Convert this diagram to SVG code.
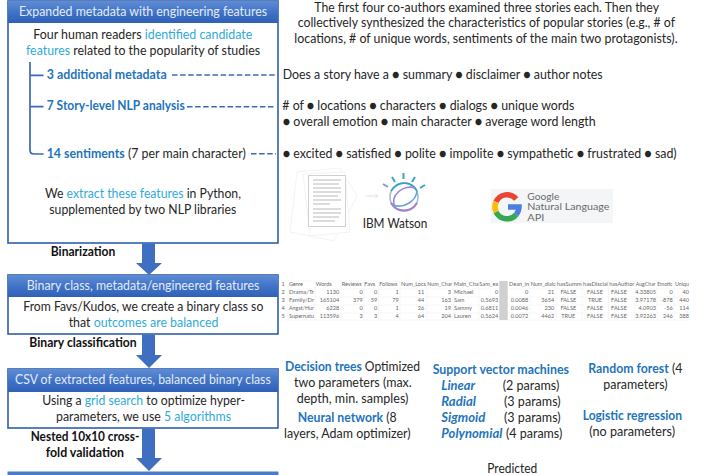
<svg xmlns="http://www.w3.org/2000/svg" width="725" height="475" viewBox="0 0 725 475">
<defs>
<linearGradient id="hdr" x1="0" y1="0" x2="0" y2="1"><stop offset="0" stop-color="#5f8cd4"/><stop offset="0.5" stop-color="#4174c8"/><stop offset="1" stop-color="#2f60b6"/></linearGradient>
</defs>
<style>
text{font-family:"Lato","Carlito","Liberation Sans",sans-serif;font-size:13.2px;fill:#262626}
.w{fill:#e3ebf7;font-size:13.2px}
.c{fill:#2fabd9}
.b{fill:#1f74bb;font-weight:700}
.i{fill:#1f74bb;font-weight:700;font-style:italic}
.k{font-weight:700;fill:#111;font-size:13.2px}
.body{fill:#fff;stroke:#2f5fa8;stroke-width:1.6}
.hd{fill:url(#hdr)}
.arr{fill:#3f6fc0}
.tree{fill:none;stroke:#3a6ab4;stroke-width:1.7}
.dash{fill:none;stroke:#3a6ab4;stroke-width:1.6;stroke-dasharray:5.500 2.600}
.t{font-size:5.600px;fill:#666}
.r{font-size:5.600px;fill:#666;text-anchor:end}
.f{font-size:5.600px;fill:#666;text-anchor:middle}
.grid{stroke:#ececec;stroke-width:.5;fill:none}
.g{font-size:8.800px;fill:#6a6a6a}
</style>
<g id="node-expanded">
<rect class="body" x="8" y="1" width="270" height="242"/>
<rect class="hd" x="8" y="1" width="270" height="22"/>
<text class="w" x="19" y="15.500" textLength="248" lengthAdjust="spacingAndGlyphs">Expanded metadata with engineering features</text>
<text x="33.300" y="39" textLength="219" lengthAdjust="spacingAndGlyphs">Four human readers <tspan class="c">identified candidate</tspan></text>
<text x="26" y="55" textLength="234" lengthAdjust="spacingAndGlyphs"><tspan class="c">features</tspan> related to the popularity of studies</text>
<text x="46.700" y="79" class="b" textLength="120" lengthAdjust="spacingAndGlyphs">3 additional metadata</text>
<text x="46.700" y="110" class="b" textLength="138" lengthAdjust="spacingAndGlyphs">7 Story-level NLP analysis</text>
<text x="46.700" y="158" textLength="199" lengthAdjust="spacingAndGlyphs"><tspan class="b">14 sentiments</tspan> (7 per main character)</text>
<text x="45" y="198" textLength="196" lengthAdjust="spacingAndGlyphs">We <tspan class="c">extract these features</tspan> in Python,</text>
<text x="49.300" y="214" textLength="187" lengthAdjust="spacingAndGlyphs">supplemented by two NLP libraries</text>
</g>
<g id="label-binarization"><text class="k" x="50.700" y="256" textLength="64.700" lengthAdjust="spacingAndGlyphs">Binarization</text></g>
<g id="node-binary">
<rect class="body" x="8" y="275" width="270" height="59"/>
<rect class="hd" x="8" y="275" width="270" height="22"/>
<text class="w" x="26.700" y="290" textLength="232.700" lengthAdjust="spacingAndGlyphs">Binary class, metadata/engineered features</text>
<text x="23.300" y="311" textLength="240" lengthAdjust="spacingAndGlyphs">From Favs/Kudos, we create a binary class so</text>
<text x="68.700" y="327" textLength="149.700" lengthAdjust="spacingAndGlyphs">that <tspan class="c">outcomes are balanced</tspan></text>
</g>
<g id="label-classification"><text class="k" x="29.300" y="347" textLength="107.300" lengthAdjust="spacingAndGlyphs">Binary classification</text></g>
<g id="node-csv">
<rect class="body" x="8" y="369" width="270" height="59"/>
<rect class="hd" x="8" y="369" width="270" height="23"/>
<text class="w" x="15" y="384" textLength="255.700" lengthAdjust="spacingAndGlyphs">CSV of extracted features, balanced binary class</text>
<text x="42.300" y="405" textLength="202.700" lengthAdjust="spacingAndGlyphs">Using a <tspan class="c">grid search</tspan> to optimize hyper-</text>
<text x="56" y="421" textLength="175" lengthAdjust="spacingAndGlyphs">parameters, we use <tspan class="c">5 algorithms</tspan></text>
</g>
<g id="label-validation">
<text class="k" x="30.700" y="441" textLength="108.700" lengthAdjust="spacingAndGlyphs">Nested 10x10 cross-</text>
<text class="k" x="45.700" y="457" textLength="78.300" lengthAdjust="spacingAndGlyphs">fold validation</text>
</g>
<g id="node-results"><rect x="7.500" y="471.500" width="271" height="4" fill="#4a7cc8"/></g>
<g id="connectors">
<polygon class="arr" points="142,243.500 155,243.500 155,263 162,263 149,275 136,263 142,263"/>
<polygon class="arr" points="142,334.500 155,334.500 155,355 162,355 149,368 136,355 142,355"/>
<polygon class="arr" points="142,428.500 155,428.500 155,458 162,458 149,471 136,458 142,458"/>
<path class="tree" d="M30,62V150Q30,154 34,154H43.500M30,75.300H43.500M30,106.700H43.500"/>
<path class="dash" d="M172,75H276"/>
<path class="dash" d="M187,106.700H276"/>
<path class="dash" d="M251,153.700H276"/>
</g>
<g id="notes">
<text x="314.300" y="11.500" textLength="344.700" lengthAdjust="spacingAndGlyphs">The first four co-authors examined three stories each. Then they</text>
<text x="297.700" y="27.400" textLength="377.300" lengthAdjust="spacingAndGlyphs">collectively synthesized the characteristics of popular stories (e.g., # of</text>
<text x="294.300" y="43.400" textLength="383.300" lengthAdjust="spacingAndGlyphs">locations, # of unique words, sentiments of the main two protagonists).</text>
<text x="282.700" y="79" textLength="320" lengthAdjust="spacingAndGlyphs">Does a story have a ● summary ● disclaimer ● author notes</text>
<text x="282.300" y="110" textLength="292" lengthAdjust="spacingAndGlyphs"># of ● locations ● characters ● dialogs ● unique words</text>
<text x="282.700" y="126" textLength="313" lengthAdjust="spacingAndGlyphs">● overall emotion ● main character ● average word length</text>
<text x="282.700" y="158" textLength="394" lengthAdjust="spacingAndGlyphs">● excited ● satisfied ● polite ● impolite ● sympathetic ● frustrated ● sad)</text>
</g>
<g id="watson">
<g fill="#fff" stroke="#eeeeee" stroke-width=".7">
<polygon points="297,172 340,168 357,196 334,241 290,232"/>
<polygon points="303,174 345,172 350,232 310,236"/>
</g>
<rect x="308.500" y="175.500" width="37" height="51" fill="#fff" stroke="#d0d0d0"/>
<path d="M313,180H341M313,184H339M313,188H341M313,192H341M313,196H338M313,200H341M313,204H330M313,209H341M313,213H341M313,217H339M313,221H335" stroke="#dcdcdc" stroke-width="2" fill="none"/>
<path d="M366,196H378M375.500,194.500L378,196L375.500,197.500" stroke="#e2e2e2" fill="none"/>
<g fill="none" stroke-width="1.600">
<ellipse cx="404" cy="197" rx="14" ry="14" stroke="#9cc0d8"/>
<path d="M391,191C398,180 412,181 417,191" stroke="#35a3bd"/>
<path d="M391,203C397,213 411,213 417,203" stroke="#a87ad0" stroke-width="2"/>
<path d="M395,208C389,194 405,184 415,188" stroke="#9a86d6"/>
<path d="M393,205C404,209 416,201 417,191" stroke="#6aa3d0"/>
</g>
<g stroke-width="2" stroke="#3aa7bc">
<path d="M403.500,173V179"/><path d="M392,177L395,182"/><path d="M415,177L412,182"/>
<path d="M383,184L388,187" stroke="#7f9bd0"/><path d="M425,185L420,188"/>
</g>
<text x="362.700" y="227.700" textLength="64.700" lengthAdjust="spacingAndGlyphs">IBM Watson</text>
</g>
<g id="google">
<rect x="491" y="189" width="122" height="34" fill="#f4f5f7"/>
<g fill="none" stroke-width="5.500">
<path d="M516.200,199A12,12 0 0 0 496.100,201.900" stroke="#ea4335"/>
<path d="M496.100,201.900A12,12 0 0 0 496.100,212.100" stroke="#fbbc05"/>
<path d="M496.100,212.100A12,12 0 0 0 516.200,214.400" stroke="#34a853"/>
<path d="M516.200,214.400A12,12 0 0 0 519,207H508" stroke="#4a7fe0"/>
</g>
<text class="g" x="527.300" y="199.700" textLength="32" lengthAdjust="spacingAndGlyphs">Google</text>
<text class="g" x="527.300" y="210.400" textLength="82" lengthAdjust="spacingAndGlyphs">Natural Language</text>
<text class="g" x="527.300" y="221" textLength="17" lengthAdjust="spacingAndGlyphs">API</text>
</g>
<g id="table">
<path class="grid" d="M280,281H689M280,289H689M280,297H689M280,305H689M280,313H689M280,320H689M288,281V320M315,281V320M341,281V320M364,281V320M378.500,281V320M400,281V320M427,281V320M453,281V320M479,281V320M530,281V320M556,281V320M582,281V320M608.500,281V320M635,281V320M657,281V320M674,281V320"/>
<rect x="499.300" y="281" width="8.400" height="39" fill="#d0d0d0"/>
<text class="t" x="281.500" y="286">1</text><text class="t" x="281.500" y="294">2</text><text class="t" x="281.500" y="302">3</text><text class="t" x="281.500" y="310">4</text><text class="t" x="281.500" y="318">5</text>
<text class="t" x="289" y="286" textLength="14">Genre</text><text class="t" x="315.700" y="286" textLength="16">Words</text><text class="t" x="341.700" y="286" textLength="20" lengthAdjust="spacingAndGlyphs">Reviews</text><text class="t" x="364.300" y="286" textLength="11">Favs</text><text class="t" x="379.300" y="286" textLength="18" lengthAdjust="spacingAndGlyphs">Follows</text><text class="t" x="401" y="286" textLength="25" lengthAdjust="spacingAndGlyphs">Num_Locs</text><text class="t" x="427.300" y="286" textLength="25" lengthAdjust="spacingAndGlyphs">Num_Char</text><text class="t" x="453.700" y="286" textLength="25" lengthAdjust="spacingAndGlyphs">Main_Cha</text><text class="t" x="479.300" y="286" textLength="19" lengthAdjust="spacingAndGlyphs">Sam_ex</text><text class="t" x="509" y="286" textLength="20" lengthAdjust="spacingAndGlyphs">Dean_in</text><text class="t" x="530.700" y="286" textLength="25" lengthAdjust="spacingAndGlyphs">Num_dialc</text><text class="t" x="556.700" y="286" textLength="25" lengthAdjust="spacingAndGlyphs">hasSumm</text><text class="t" x="583" y="286" textLength="25" lengthAdjust="spacingAndGlyphs">hasDisclai</text><text class="t" x="609.300" y="286" textLength="25" lengthAdjust="spacingAndGlyphs">hasAuthor</text><text class="t" x="635.700" y="286" textLength="20" lengthAdjust="spacingAndGlyphs">AugChar</text><text class="t" x="657.300" y="286" textLength="15" lengthAdjust="spacingAndGlyphs">Emotic</text><text class="t" x="675" y="286" textLength="14" lengthAdjust="spacingAndGlyphs">Uniqu</text>
<text class="t" x="289" y="294" textLength="25" lengthAdjust="spacingAndGlyphs">Drama/Tr</text><text class="r" x="339.300" y="294">1130</text><text class="r" x="362.700" y="294">0</text><text class="r" x="377.300" y="294">0</text><text class="r" x="398.700" y="294">1</text><text class="r" x="424.300" y="294">11</text><text class="r" x="451" y="294">3</text><text class="t" x="454" y="294">Michael</text><text class="r" x="498.300" y="294">0</text><text class="r" x="528.300" y="294">0</text><text class="r" x="554.300" y="294">21</text><text class="f" x="568.300" y="294">FALSE</text><text class="f" x="595" y="294">FALSE</text><text class="f" x="619" y="294">FALSE</text><text class="r" x="656" y="294">4.33805</text><text class="r" x="672.700" y="294">0</text><text class="r" x="689" y="294">40</text>
<text class="t" x="289" y="302" textLength="25" lengthAdjust="spacingAndGlyphs">Family/Dr</text><text class="r" x="339.300" y="302">165104</text><text class="r" x="362.700" y="302">379</text><text class="r" x="377.300" y="302">59</text><text class="r" x="398.700" y="302">79</text><text class="r" x="424.300" y="302">44</text><text class="r" x="451" y="302">163</text><text class="t" x="454" y="302">Sam</text><text class="r" x="498.300" y="302">0.5693</text><text class="r" x="528.300" y="302">0.0088</text><text class="r" x="554.300" y="302">3654</text><text class="f" x="568.300" y="302">FALSE</text><text class="f" x="595" y="302">TRUE</text><text class="f" x="619" y="302">FALSE</text><text class="r" x="656" y="302">3.97178</text><text class="r" x="672.700" y="302">-878</text><text class="r" x="689" y="302">440</text>
<text class="t" x="289" y="310" textLength="25" lengthAdjust="spacingAndGlyphs">Angst/Hur</text><text class="r" x="339.300" y="310">6228</text><text class="r" x="362.700" y="310">0</text><text class="r" x="377.300" y="310">0</text><text class="r" x="398.700" y="310">1</text><text class="r" x="424.300" y="310">26</text><text class="r" x="451" y="310">19</text><text class="t" x="454" y="310">Sammy</text><text class="r" x="498.300" y="310">0.6811</text><text class="r" x="528.300" y="310">0.0046</text><text class="r" x="554.300" y="310">230</text><text class="f" x="568.300" y="310">FALSE</text><text class="f" x="595" y="310">FALSE</text><text class="f" x="619" y="310">FALSE</text><text class="r" x="656" y="310">4.0903</text><text class="r" x="672.700" y="310">-56</text><text class="r" x="689" y="310">114</text>
<text class="t" x="289" y="318" textLength="25" lengthAdjust="spacingAndGlyphs">Supernatu</text><text class="r" x="339.300" y="318">113596</text><text class="r" x="362.700" y="318">3</text><text class="r" x="377.300" y="318">3</text><text class="r" x="398.700" y="318">4</text><text class="r" x="424.300" y="318">64</text><text class="r" x="451" y="318">204</text><text class="t" x="454" y="318">Lauren</text><text class="r" x="498.300" y="318">0.5624</text><text class="r" x="528.300" y="318">0.0072</text><text class="r" x="554.300" y="318">4462</text><text class="f" x="568.300" y="318">TRUE</text><text class="f" x="595" y="318">FALSE</text><text class="f" x="619" y="318">FALSE</text><text class="r" x="656" y="318">3.92263</text><text class="r" x="672.700" y="318">246</text><text class="r" x="689" y="318">388</text>
</g>
<g id="algorithms">
<text x="285" y="370.500" textLength="135" lengthAdjust="spacingAndGlyphs"><tspan class="b">Decision trees</tspan> Optimized</text>
<text x="294" y="386.500" textLength="117.700" lengthAdjust="spacingAndGlyphs">two parameters (max.</text>
<text x="296.700" y="402.500" textLength="111.700" lengthAdjust="spacingAndGlyphs">depth, min. samples)</text>
<text x="297.700" y="421.700" textLength="99" lengthAdjust="spacingAndGlyphs"><tspan class="b">Neural network</tspan> (8</text>
<text x="284" y="437.700" textLength="126.700" lengthAdjust="spacingAndGlyphs">layers, Adam optimizer)</text>
<text x="432.700" y="373.500" class="b" textLength="136.300" lengthAdjust="spacingAndGlyphs">Support vector machines</text>
<text x="441.300" y="389.500" class="i" textLength="33.700" lengthAdjust="spacingAndGlyphs">Linear</text><text x="502.700" y="389.500" textLength="56.700" lengthAdjust="spacingAndGlyphs">(2 params)</text>
<text x="441.300" y="405.500" class="i" textLength="34.700" lengthAdjust="spacingAndGlyphs">Radial</text><text x="504" y="405.500" textLength="56.700" lengthAdjust="spacingAndGlyphs">(3 params)</text>
<text x="441.300" y="421.500" class="i" textLength="44" lengthAdjust="spacingAndGlyphs">Sigmoid</text><text x="504" y="421.500" textLength="56.700" lengthAdjust="spacingAndGlyphs">(3 params)</text>
<text x="441.300" y="437.500" class="i" textLength="61" lengthAdjust="spacingAndGlyphs">Polynomial</text><text x="506" y="437.500" textLength="56.300" lengthAdjust="spacingAndGlyphs">(4 params)</text>
<text x="588.300" y="373.300" textLength="94" lengthAdjust="spacingAndGlyphs"><tspan class="b">Random forest</tspan> (4</text>
<text x="603.300" y="389.300" textLength="64.300" lengthAdjust="spacingAndGlyphs">parameters)</text>
<text x="582.700" y="420" class="b" textLength="99.300" lengthAdjust="spacingAndGlyphs">Logistic regression</text>
<text x="589.300" y="436" textLength="85.700" lengthAdjust="spacingAndGlyphs">(no parameters)</text>
<text x="487.300" y="473" textLength="50" lengthAdjust="spacingAndGlyphs">Predicted</text>
</g>
</svg>
